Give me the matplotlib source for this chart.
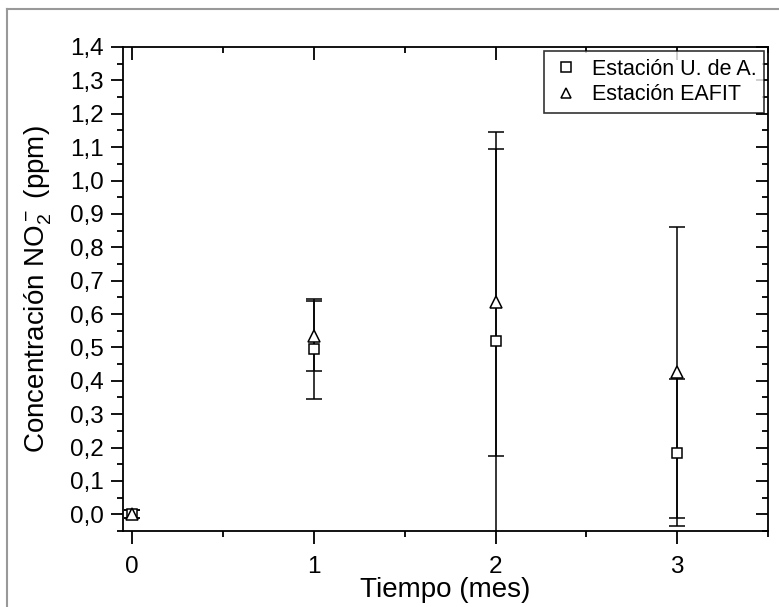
import matplotlib
matplotlib.use('Agg')
import matplotlib.pyplot as plt
from matplotlib.ticker import MultipleLocator, FuncFormatter
from matplotlib.lines import Line2D

plt.rcParams['font.family'] = ['Liberation Sans', 'DejaVu Sans']
plt.rcParams['mathtext.fontset'] = 'custom'
plt.rcParams['mathtext.rm'] = 'Liberation Sans'
plt.rcParams['mathtext.it'] = 'Liberation Sans'

# data
tiempo = [0, 1, 2, 3]
udea = [0.0, 0.495, 0.52, 0.185]
udea_err = [0.012, 0.15, 0.625, 0.22]
eafit = [0.0, 0.535, 0.635, 0.425]
eafit_err = [0.012, 0.105, 0.46, 0.435]

fig = plt.figure(figsize=(7.79, 6.07), dpi=100)
ax = fig.add_axes([0.158, 0.1252, 0.828, 0.7974])

eb1 = ax.errorbar(tiempo, udea, yerr=udea_err, fmt='s', mfc='white', mec='black',
                  ms=7, mew=1.1, ecolor='black', elinewidth=1.1, capsize=6, capthick=1.1,
                  label='Estación U. de A.', zorder=3)
eb2 = ax.errorbar(tiempo, eafit, yerr=eafit_err, fmt='^', mfc='white', mec='black',
                  ms=9, mew=1.1, ecolor='black', elinewidth=1.1, capsize=6, capthick=1.1,
                  label='Estación EAFIT', zorder=3)

ax.set_xlim(-0.05, 3.5)
ax.set_ylim(-0.05, 1.4)
ax.xaxis.set_major_locator(MultipleLocator(1))
ax.xaxis.set_minor_locator(MultipleLocator(0.5))
ax.yaxis.set_major_locator(MultipleLocator(0.1))
ax.yaxis.set_minor_locator(MultipleLocator(0.05))
ax.yaxis.set_major_formatter(FuncFormatter(lambda v, p: ('%.1f' % v).replace('.', ',')))

ax.tick_params(axis='both', which='major', labelsize=17.5, width=1.3, length=9, direction='out', pad=5)
ax.tick_params(axis='both', which='minor', width=1.3, length=4.5, direction='out')
ax.tick_params(axis='x', which='major', pad=9)
ax.tick_params(axis='y', which='both', right=True)
ax.tick_params(axis='x', which='both', top=True)
for t in ax.yaxis.get_major_ticks() + ax.yaxis.get_minor_ticks():
    t.tick2line.set_marker(0)  # inward on the right side
for t in ax.xaxis.get_major_ticks() + ax.xaxis.get_minor_ticks():
    t.tick2line.set_marker(3)  # inward on top

for s in ax.spines.values():
    s.set_linewidth(1.3)

ax.set_xlabel('Tiempo (mes)', fontsize=20, labelpad=-1)
ax.set_ylabel('Concentración NO$_2^-$ (ppm)', fontsize=20, labelpad=11)

leg = ax.legend(handles=[eb1[0], eb2[0]], labels=['Estación U. de A.', 'Estación EAFIT'],
                loc='upper right', fontsize=15.5, frameon=True, fancybox=False,
                edgecolor='black', handletextpad=0.55, borderpad=0.35,
                handlelength=1.3, labelspacing=0.2, borderaxespad=0.2)
leg.get_frame().set_linewidth(1.2)
for h in leg.legend_handles:
    h.set_markersize(7)

# gray frame lines at top and left
fig.add_artist(Line2D([7 / 779, 1], [1 - 9 / 607, 1 - 9 / 607], color='#999999', lw=1.5,
                      transform=fig.transFigure))
fig.add_artist(Line2D([7 / 779, 7 / 779], [0, 1 - 9 / 607], color='#999999', lw=1.5,
                      transform=fig.transFigure))

fig.savefig('out.png', dpi=100)
